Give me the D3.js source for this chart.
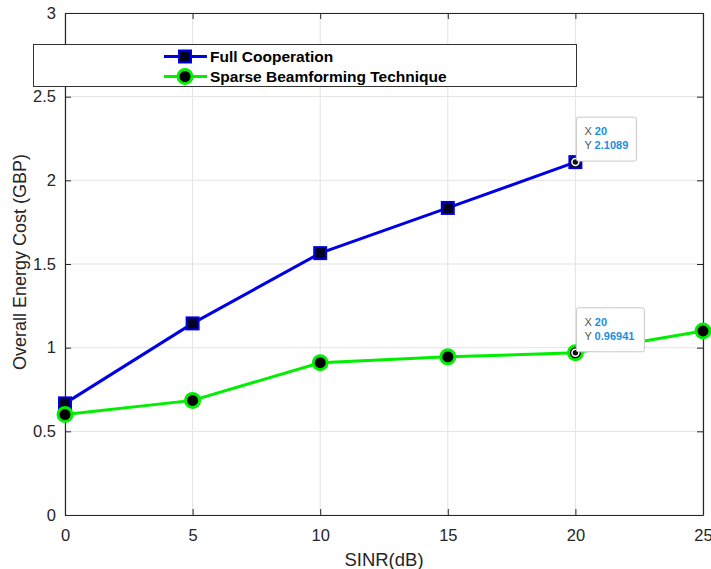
<!DOCTYPE html>
<html>
<head>
<meta charset="utf-8">
<script src="https://cdn.jsdelivr.net/npm/d3@7"></script>
<style>
  body { margin: 0; background: #fff; }
  svg { font-family: Arial, "Liberation Sans", sans-serif; }
</style>
</head>
<body>
<div class="chart"></div>
<script>
// data
var sinr = [0, 5, 10, 15, 20];
var fullCoop = [0.667, 1.145, 1.565, 1.835, 2.1089];
var sinrSparse = [0, 5, 10, 15, 20, 25];
var sparseBf = [0.60, 0.685, 0.91, 0.945, 0.96941, 1.10];
var xTicks = [0, 5, 10, 15, 20, 25];
var yTicks = [0, 0.5, 1, 1.5, 2, 2.5, 3];
var seriesNames = ["Full Cooperation", "Sparse Beamforming Technique"];

var svgWidth = 711;
var svgHeight = 569;

var margin = { top: 13, right: 8, bottom: 54, left: 65 };
var width = svgWidth - margin.left - margin.right;
var height = svgHeight - margin.top - margin.bottom;

var svg = d3.select(".chart")
  .append("svg")
  .attr("width", svgWidth)
  .attr("height", svgHeight);

var chartGroup = svg.append("g")
  .attr("transform", `translate(${margin.left}, ${margin.top})`);

var x = d3.scaleLinear().domain([0, 25]).range([0, width]);
var y = d3.scaleLinear().domain([0, 3]).range([height, 0]);

// grid
chartGroup.append("g")
  .selectAll("line")
  .data(xTicks)
  .enter().append("line")
  .attr("x1", d => x(d)).attr("x2", d => x(d))
  .attr("y1", 0).attr("y2", height)
  .attr("stroke", "#e3e3e3").attr("stroke-width", 1);

chartGroup.append("g")
  .selectAll("line")
  .data(yTicks)
  .enter().append("line")
  .attr("x1", 0).attr("x2", width)
  .attr("y1", d => y(d)).attr("y2", d => y(d))
  .attr("stroke", "#e3e3e3").attr("stroke-width", 1);

// axes (MATLAB style, ticks inward, box on)
var axisColor = "#262626";
var bottomAxis = d3.axisBottom(x).tickValues(xTicks).tickSizeInner(-6).tickSizeOuter(0).tickPadding(14).tickFormat(d3.format("d"));
var leftAxis = d3.axisLeft(y).tickValues(yTicks).tickSizeInner(-6).tickSizeOuter(0).tickPadding(9).tickFormat(d => d);
var topAxis = d3.axisTop(x).tickValues(xTicks).tickSizeInner(-6).tickSizeOuter(0).tickFormat("");
var rightAxis = d3.axisRight(y).tickValues(yTicks).tickSizeInner(-6).tickSizeOuter(0).tickFormat("");

var xAxis = chartGroup.append("g")
  .attr("transform", `translate(0, ${height})`)
  .call(bottomAxis);
var yAxis = chartGroup.append("g").call(leftAxis);
chartGroup.append("g").call(topAxis);
chartGroup.append("g").attr("transform", `translate(${width}, 0)`).call(rightAxis);

chartGroup.selectAll(".domain").attr("stroke", axisColor).attr("stroke-width", 1.2);
chartGroup.selectAll(".tick line").attr("stroke", axisColor);
chartGroup.selectAll(".tick text")
  .attr("fill", "#262626")
  .style("font-size", "16.5px");

// axis titles
chartGroup.append("text")
  .attr("x", width / 2)
  .attr("y", height + 51)
  .attr("text-anchor", "middle")
  .attr("fill", "#262626")
  .style("font-size", "18.5px")
  .text("SINR(dB)");

chartGroup.append("text")
  .attr("transform", "rotate(-90)")
  .attr("x", -(height / 2) + 2)
  .attr("y", -39)
  .attr("text-anchor", "middle")
  .attr("fill", "#262626")
  .style("font-size", "18px")
  .text("Overall Energy Cost (GBP)");

// lines
var line = d3.line().x(d => x(d[0])).y(d => y(d[1]));
var fullData = sinr.map((s, i) => [s, fullCoop[i]]);
var sparseData = sinrSparse.map((s, i) => [s, sparseBf[i]]);

chartGroup.append("path")
  .datum(fullData)
  .attr("d", line)
  .attr("fill", "none")
  .attr("stroke", "#0000e6")
  .attr("stroke-width", 3);

chartGroup.append("path")
  .datum(sparseData)
  .attr("d", line)
  .attr("fill", "none")
  .attr("stroke", "#00ee00")
  .attr("stroke-width", 3);

// markers
chartGroup.selectAll(".sq")
  .data(fullData)
  .enter().append("rect")
  .attr("x", d => x(d[0]) - 6)
  .attr("y", d => y(d[1]) - 6)
  .attr("width", 12).attr("height", 12)
  .attr("fill", "#000022")
  .attr("stroke", "#0000e6")
  .attr("stroke-width", 2);

chartGroup.selectAll(".dot")
  .data(sparseData)
  .enter().append("circle")
  .attr("cx", d => x(d[0]))
  .attr("cy", d => y(d[1]))
  .attr("r", 7)
  .attr("fill", "#000")
  .attr("stroke", "#00ee00")
  .attr("stroke-width", 3);

// data tips at x = 20
function dataTip(px, py, yLabel, boxW) {
  chartGroup.append("circle")
    .attr("cx", x(px)).attr("cy", y(py)).attr("r", 3.5)
    .attr("fill", "#111").attr("stroke", "#fff").attr("stroke-width", 1.5);
  var g = chartGroup.append("g")
    .attr("transform", `translate(${x(px) + 1}, ${y(py) - 45})`);
  g.append("rect")
    .attr("width", boxW).attr("height", 44)
    .attr("rx", 2)
    .attr("fill", "#fff")
    .attr("stroke", "#c8c8c8");
  g.append("text").attr("x", 8).attr("y", 18)
    .style("font-size", "11px")
    .html(`<tspan fill="#555">X </tspan><tspan fill="#1a8fe0" font-weight="bold">20</tspan>`);
  g.append("text").attr("x", 8).attr("y", 32)
    .style("font-size", "11px")
    .html(`<tspan fill="#555">Y </tspan><tspan fill="#1a8fe0" font-weight="bold">${yLabel}</tspan>`);
}
dataTip(20, fullCoop[4], "2.1089", 60);
dataTip(20, sparseBf[4], "0.96941", 68);

// legend
var legend = svg.append("g");
legend.append("rect")
  .attr("x", 33.5).attr("y", 44.5)
  .attr("width", 543).attr("height", 42)
  .attr("fill", "#fff")
  .attr("stroke", "#333")
  .attr("stroke-width", 1);

var legRows = legend.selectAll(".row")
  .data(seriesNames)
  .enter().append("g")
  .attr("transform", (d, i) => `translate(0, ${56.5 + i * 20})`);

legRows.append("line")
  .attr("x1", 164).attr("x2", 207)
  .attr("stroke", (d, i) => i === 0 ? "#0000e6" : "#00ee00")
  .attr("stroke-width", 3);

legRows.filter((d, i) => i === 0).append("rect")
  .attr("x", 179).attr("y", -6).attr("width", 12).attr("height", 12)
  .attr("fill", "#000022").attr("stroke", "#0000e6").attr("stroke-width", 2);

legRows.filter((d, i) => i === 1).append("circle")
  .attr("cx", 185).attr("r", 7)
  .attr("fill", "#000").attr("stroke", "#00ee00").attr("stroke-width", 3);

legRows.append("text")
  .attr("x", 210)
  .attr("dy", "0.35em")
  .attr("fill", "#000")
  .style("font-size", "15.5px")
  .style("font-weight", "bold")
  .text(d => d);
</script>
</body>
</html>
